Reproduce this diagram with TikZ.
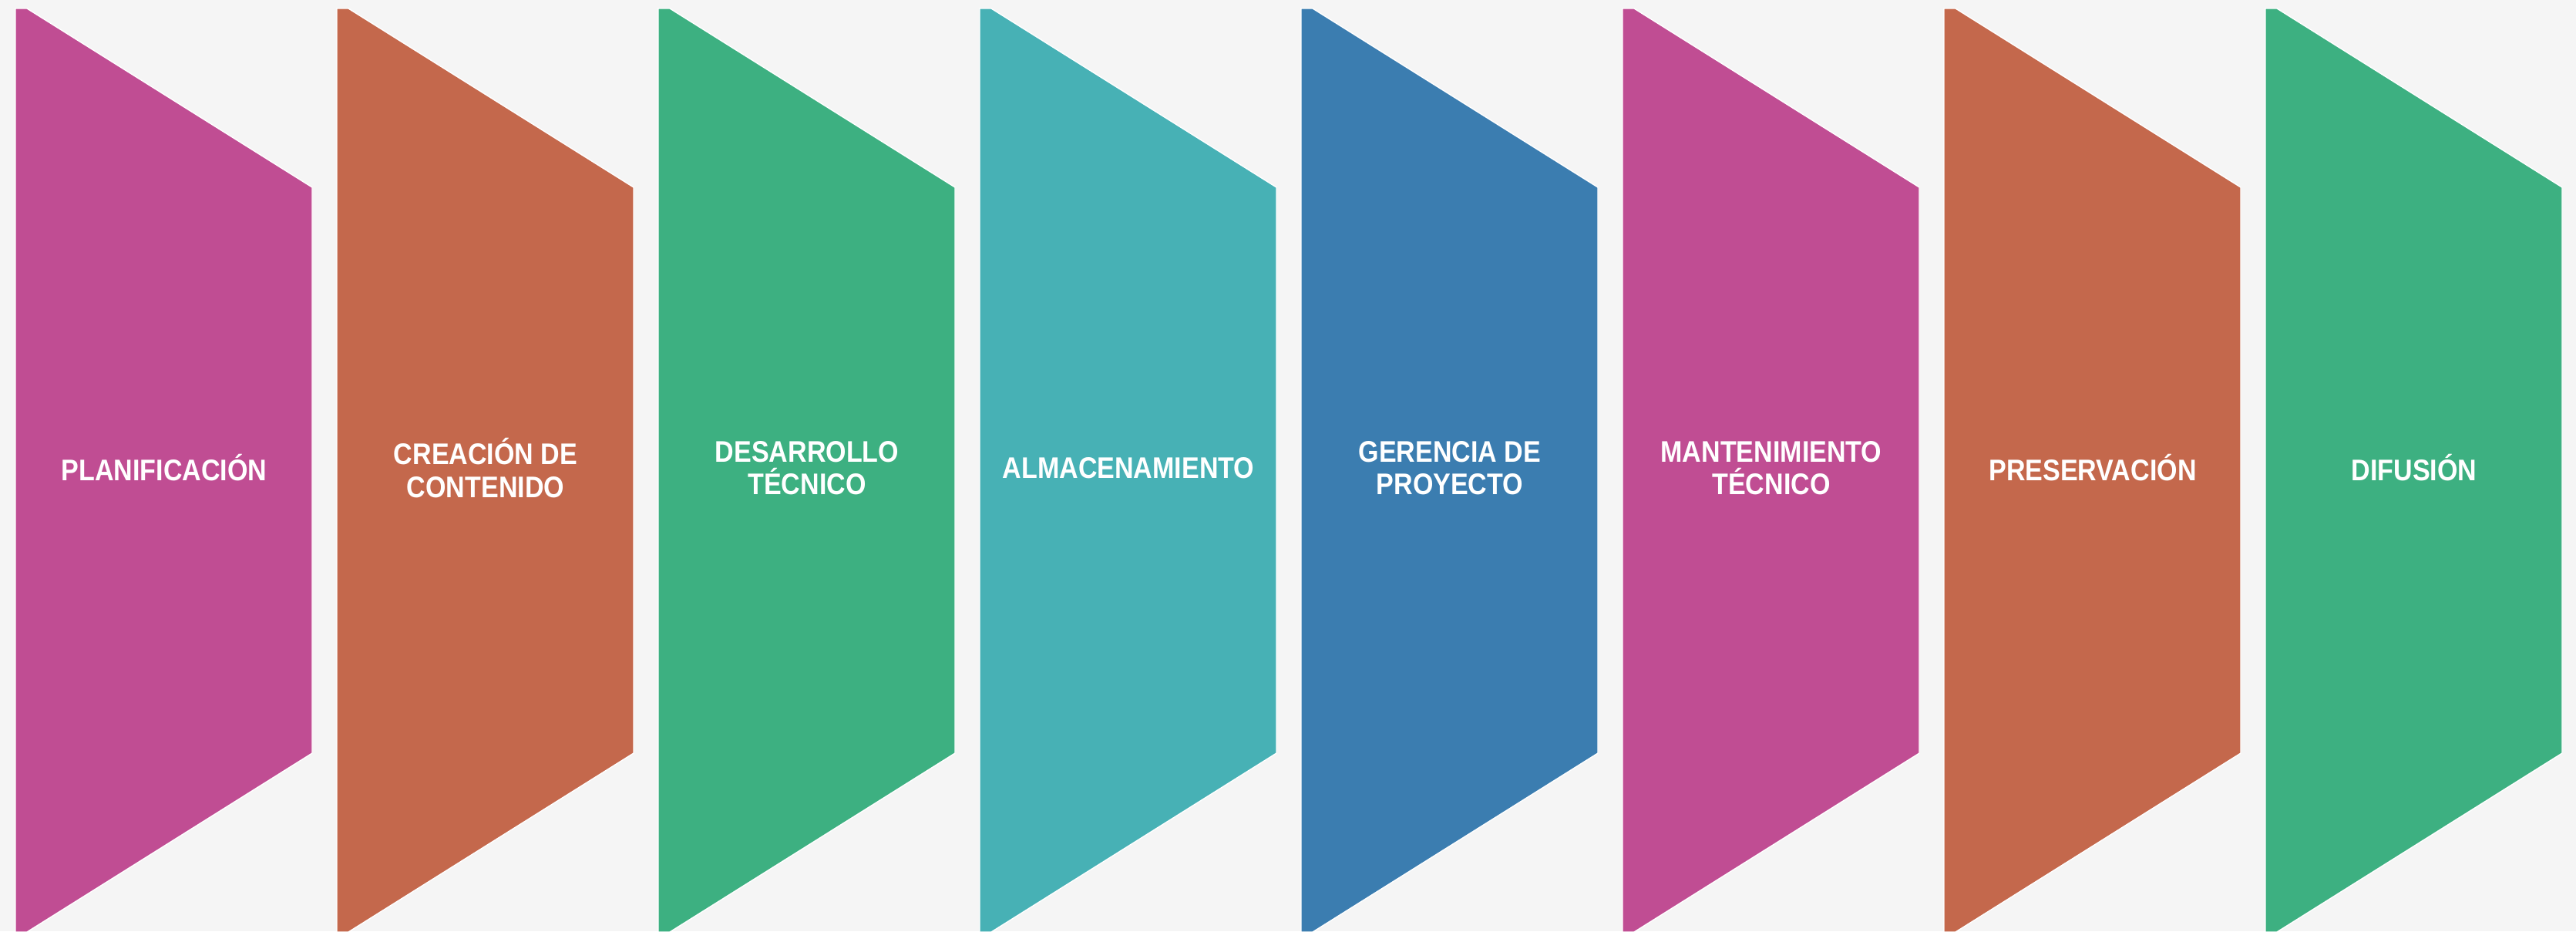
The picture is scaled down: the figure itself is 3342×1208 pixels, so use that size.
\documentclass[tikz,border=0pt]{standalone}
\usepackage{fontspec}
\setmainfont{Liberation Sans}[FakeStretch=0.88]
\usepackage{tikz}

\definecolor{bgrey}{HTML}{F5F5F5}
\definecolor{stagepink}{HTML}{C04D93}
\definecolor{stagebrick}{HTML}{C4684C}
\definecolor{stagegreen}{HTML}{3DB081}
\definecolor{stageteal}{HTML}{47B1B5}
\definecolor{stageblue}{HTML}{3B7DB0}

\tikzset{
    stagetext/.style={text=white, align=center, inner sep=0pt,
        font=\bfseries\fontsize{11}{12}\selectfont}
}

\begin{document}
\begin{tikzpicture}[x=0.01cm, y=-0.01cm]
    % Background
    \fill[bgrey] (0,0) rectangle (3342,1208);
    \useasboundingbox (0,0) rectangle (3342,1208);

    % Stages (8 banners)
    \foreach \i/\col/\name/\txt in {0/stagepink/plan/{PLANIFICACIÓN},
        1/stagebrick/crea/{CREACIÓN DE\\CONTENIDO},
        2/stagegreen/desa/{DESARROLLO\\TÉCNICO},
        3/stageteal/alma/{ALMACENAMIENTO},
        4/stageblue/gere/{GERENCIA DE\\PROYECTO},
        5/stagepink/mant/{MANTENIMIENTO\\TÉCNICO},
        6/stagebrick/pres/{PRESERVACIÓN},
        7/stagegreen/difu/{DIFUSIÓN}}{
        \pgfmathsetmacro{\xa}{20+417*\i}
        \filldraw[fill=\col, draw=white, line width=0.4pt]
            (\xa,11) -- ++(15,0) -- ++(370,232) -- ++(0,734)
            -- ++(-370,232) -- ++(-15,0) -- cycle;
        \node[stagetext] (\name) at (\xa+193,607) {\txt};
    }

\end{tikzpicture}
\end{document}
